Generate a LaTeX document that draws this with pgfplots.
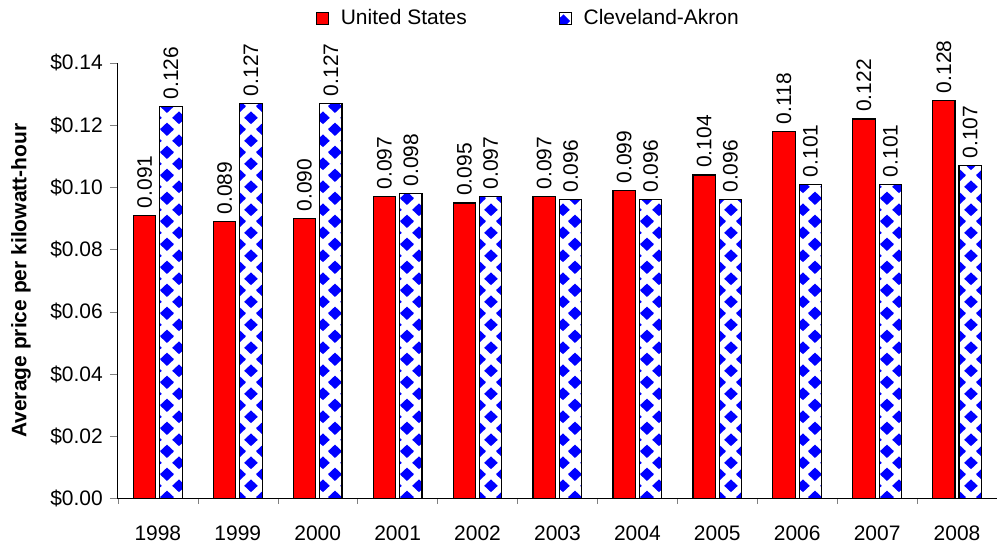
\documentclass[border=0pt]{standalone}
\usepackage{pgfplots}
\pgfplotsset{compat=1.18}
\usepackage{fontspec}
\setmainfont{Liberation Sans}
\usetikzlibrary{patterns}

% blue diamonds on white, as in the Cleveland-Akron bars
\pgfdeclarepatternformonly{cdiamonds}{\pgfpointorigin}{\pgfpoint{12pt}{11.6pt}}{\pgfpoint{12pt}{11.6pt}}{
  \pgfpathmoveto{\pgfpoint{2.6pt}{5.8pt}}\pgfpathlineto{\pgfpoint{6pt}{9.1pt}}
  \pgfpathlineto{\pgfpoint{9.4pt}{5.8pt}}\pgfpathlineto{\pgfpoint{6pt}{2.5pt}}\pgfpathclose
  \pgfpathmoveto{\pgfpoint{-3.4pt}{0pt}}\pgfpathlineto{\pgfpoint{0pt}{3.3pt}}
  \pgfpathlineto{\pgfpoint{3.4pt}{0pt}}\pgfpathlineto{\pgfpoint{0pt}{-3.3pt}}\pgfpathclose
  \pgfpathmoveto{\pgfpoint{8.6pt}{0pt}}\pgfpathlineto{\pgfpoint{12pt}{3.3pt}}
  \pgfpathlineto{\pgfpoint{15.4pt}{0pt}}\pgfpathlineto{\pgfpoint{12pt}{-3.3pt}}\pgfpathclose
  \pgfpathmoveto{\pgfpoint{-3.4pt}{11.6pt}}\pgfpathlineto{\pgfpoint{0pt}{14.9pt}}
  \pgfpathlineto{\pgfpoint{3.4pt}{11.6pt}}\pgfpathlineto{\pgfpoint{0pt}{8.3pt}}\pgfpathclose
  \pgfpathmoveto{\pgfpoint{8.6pt}{11.6pt}}\pgfpathlineto{\pgfpoint{12pt}{14.9pt}}
  \pgfpathlineto{\pgfpoint{15.4pt}{11.6pt}}\pgfpathlineto{\pgfpoint{12pt}{8.3pt}}\pgfpathclose
  \pgfusepath{fill}
}

\newcommand{\chartfont}{\fontsize{10.5}{12.6}\selectfont}

\begin{document}
\begin{tikzpicture}
\useasboundingbox (-59pt,-22pt) rectangle (440pt,249.5pt);
\begin{axis}[
    width=440pt, height=218pt, scale only axis,
    /pgf/number format/assume math mode=true,
    xmin=-0.5, xmax=10.5,
    ymin=0, ymax=0.14,
    axis x line*=bottom, axis y line*=left,
    axis line style={line width=0.5pt},
    tick align=outside,
    ybar, bar width=0.28,
    xtick={0,...,10},
    xticklabels={1998,1999,2000,2001,2002,2003,2004,2005,2006,2007,2008},
    major x tick style={draw=none},
    minor xtick={-0.5,0.5,1.5,2.5,3.5,4.5,5.5,6.5,7.5,8.5,9.5,10.5},
    minor tick length=2.5pt,
    major tick length=4pt,
    x tick label style={yshift=-6pt},
    ytick={0,0.02,0.04,0.06,0.08,0.1,0.12,0.14},
    yticklabel={\$\pgfmathprintnumber[fixed,fixed zerofill,precision=2]{\tick}},
    scaled y ticks=false,
    tick label style={font=\chartfont},
    ylabel={\bfseries Average price per kilowatt-hour},
    every axis y label/.style={at={(axis description cs:-0.1102,0.5)}, rotate=90,
        anchor=center, font=\chartfont},
    nodes near coords={\pgfmathprintnumber[fixed,fixed zerofill,precision=3]{\pgfplotspointmeta}},
    every node near coord/.append style={rotate=90, anchor=west, font=\chartfont, black},
    legend columns=2,
    legend style={at={(0.468,1.103)}, anchor=center, draw=none, font=\chartfont,
        /tikz/every odd column/.append style={column sep=4pt},
        /tikz/every even column/.append style={column sep=44pt}},
    legend image code/.code={\draw[#1,draw=black,line width=0.5pt] (0pt,-3pt) rectangle (6pt,3pt);},
]
\addplot[fill=red, draw=black, line width=0.6pt] coordinates {
    (0,0.091)(1,0.089)(2,0.090)(3,0.097)(4,0.095)(5,0.097)
    (6,0.099)(7,0.104)(8,0.118)(9,0.122)(10,0.128)
};
\addlegendentry{United States}
\addplot[pattern=cdiamonds, pattern color=blue, draw=black, line width=0.6pt] coordinates {
    (0,0.126)(1,0.127)(2,0.127)(3,0.098)(4,0.097)(5,0.096)
    (6,0.096)(7,0.096)(8,0.101)(9,0.101)(10,0.107)
};
\addlegendentry{Cleveland-Akron}
\end{axis}
\end{tikzpicture}
\end{document}
